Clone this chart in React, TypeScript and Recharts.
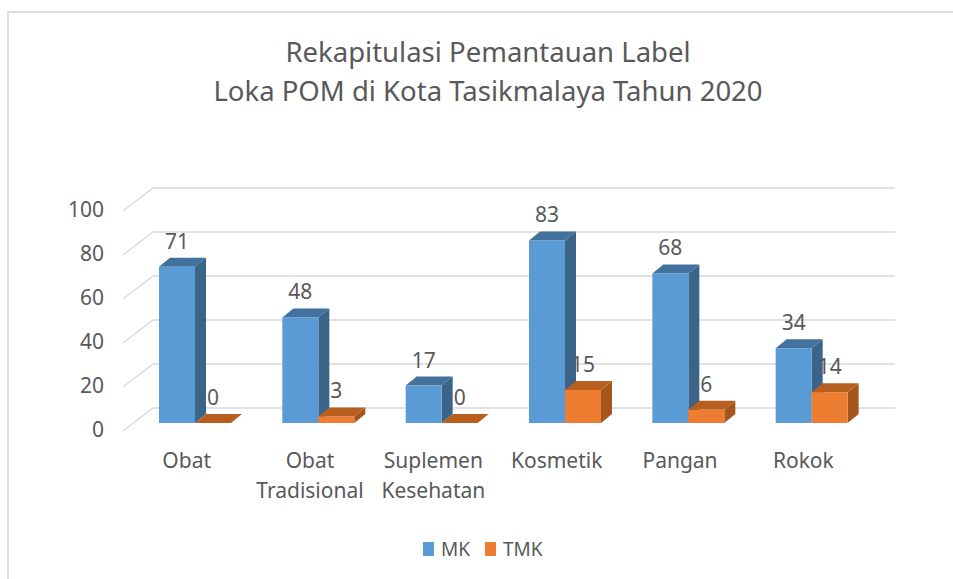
import React from "react";
import { BarChart, Bar, XAxis, YAxis, CartesianGrid, Legend, LabelList } from "recharts";

const categories = ["Obat", "Obat Tradisional", "Suplemen Kesehatan", "Kosmetik", "Pangan", "Rokok"];
const mkValues = [71, 48, 17, 83, 68, 34];
const tmkValues = [0, 3, 0, 15, 6, 14];
const yTicks = [0, 20, 40, 60, 80, 100];

const chartData = categories.map((name, i) => ({ name, MK: mkValues[i], TMK: tmkValues[i] }));

const FONT = "'Noto Sans', sans-serif";
const TEXT = "#595959";
const LABEL_SIZE = 21;
const DEPTH_X = 11;
const DEPTH_Y = 9;

// fake 3D column: front face, top and right side
const Bar3D = ({ x, y, width, height, fill, topFill, sideFill }: any) => {
  const r = x + width;
  const b = y + height;
  return (
    <g>
      <path d={`M${r},${b} L${r + DEPTH_X},${b - DEPTH_Y} L${r + DEPTH_X},${y - DEPTH_Y} L${r},${y} Z`} fill={sideFill} />
      <path d={`M${x},${y} L${x + DEPTH_X},${y - DEPTH_Y} L${r + DEPTH_X},${y - DEPTH_Y} L${r},${y} Z`} fill={topFill} />
      <rect x={x} y={y} width={width} height={height} fill={fill} />
    </g>
  );
};

const GridLine = ({ x1, x2, y1 }: any) => (
  <path
    d={`M${x1 - 10},${y1 + 8} L${x1 + 20},${y1 - 15} L${x2 + 22},${y1 - 15}`}
    fill="none"
    stroke="#d9d9d9"
    strokeWidth={1.5}
  />
);

const CategoryTick = ({ x, y, payload }: any) => {
  const words = String(payload.value).split(" ");
  return (
    <text x={x - 8} y={y + 37} textAnchor="middle" fill={TEXT} fontFamily={FONT} fontSize={LABEL_SIZE}>
      {words.map((w, i) => (
        <tspan key={w} x={x - 8} dy={i === 0 ? 0 : 30}>
          {w}
        </tspan>
      ))}
    </text>
  );
};

const ValueTick = ({ y, payload }: any) => (
  <text x={104} y={y + 14} textAnchor="end" fill={TEXT} fontFamily={FONT} fontSize={LABEL_SIZE}>
    {payload.value}
  </text>
);

const ValueLabel = ({ x, y, width, value }: any) => (
  <text x={x + width / 2} y={y - 18} textAnchor="middle" fill={TEXT} fontFamily={FONT} fontSize={LABEL_SIZE}>
    {value}
  </text>
);

const LegendContent = ({ payload }: any) => (
  <div style={{ display: "flex", fontFamily: FONT, fontSize: 19, color: TEXT, lineHeight: "24px" }}>
    {(payload || []).map((p: any) => (
      <div key={p.value} style={{ display: "flex", alignItems: "center", marginRight: 15 }}>
        <span style={{ width: 11, height: 14, background: p.color, marginRight: 7 }} />
        {p.value}
      </div>
    ))}
  </div>
);

export default function App() {
  return (
    <div
      style={{
        position: "absolute",
        left: 0,
        top: 0,
        width: 953,
        height: 579,
        background: "#fff",
        overflow: "hidden",
      }}
    >
      <div
        style={{
          position: "absolute",
          left: 7,
          top: 11,
          width: 960,
          height: 600,
          borderLeft: "2px solid #dcdcdc",
          borderTop: "2px solid #dcdcdc",
        }}
      />
      <BarChart
        width={953}
        height={579}
        data={chartData}
        margin={{ top: 203, right: 80, bottom: 0, left: 0 }}
        barSize={36}
        barGap={0}
      >
        <text x={488} y={62} textAnchor="middle" fill={TEXT} fontFamily={FONT} fontSize={27.5}>
          Rekapitulasi Pemantauan Label
        </text>
        <text x={488} y={101} textAnchor="middle" fill={TEXT} fontFamily={FONT} fontSize={27.5}>
          Loka POM di Kota Tasikmalaya Tahun 2020
        </text>
        <CartesianGrid horizontal={(p: any) => <GridLine key={p.y1} {...p} />} vertical={false} />
        <XAxis dataKey="name" height={156} axisLine={false} tickLine={false} tick={<CategoryTick />} interval={0} />
        <YAxis width={133} domain={[0, 100]} ticks={yTicks} axisLine={false} tickLine={false} tick={<ValueTick />} />
        <Legend
          layout="vertical"
          align="center"
          verticalAlign="middle"
          content={<LegendContent />}
          wrapperStyle={{ position: "absolute", left: 423, top: 537, width: 200, height: 24 }}
        />
        <Bar
          dataKey="MK"
          fill="#5b9bd5"
          isAnimationActive={false}
          shape={(p: any) => <Bar3D {...p} fill="#5b9bd5" topFill="#41719c" sideFill="#3a6488" />}
        >
          <LabelList dataKey="MK" content={<ValueLabel />} />
        </Bar>
        <Bar
          dataKey="TMK"
          fill="#ed7d31"
          isAnimationActive={false}
          shape={(p: any) => <Bar3D {...p} fill="#ed7d31" topFill="#b85f20" sideFill="#a5561c" />}
        >
          <LabelList dataKey="TMK" content={<ValueLabel />} />
        </Bar>
      </BarChart>
    </div>
  );
}
